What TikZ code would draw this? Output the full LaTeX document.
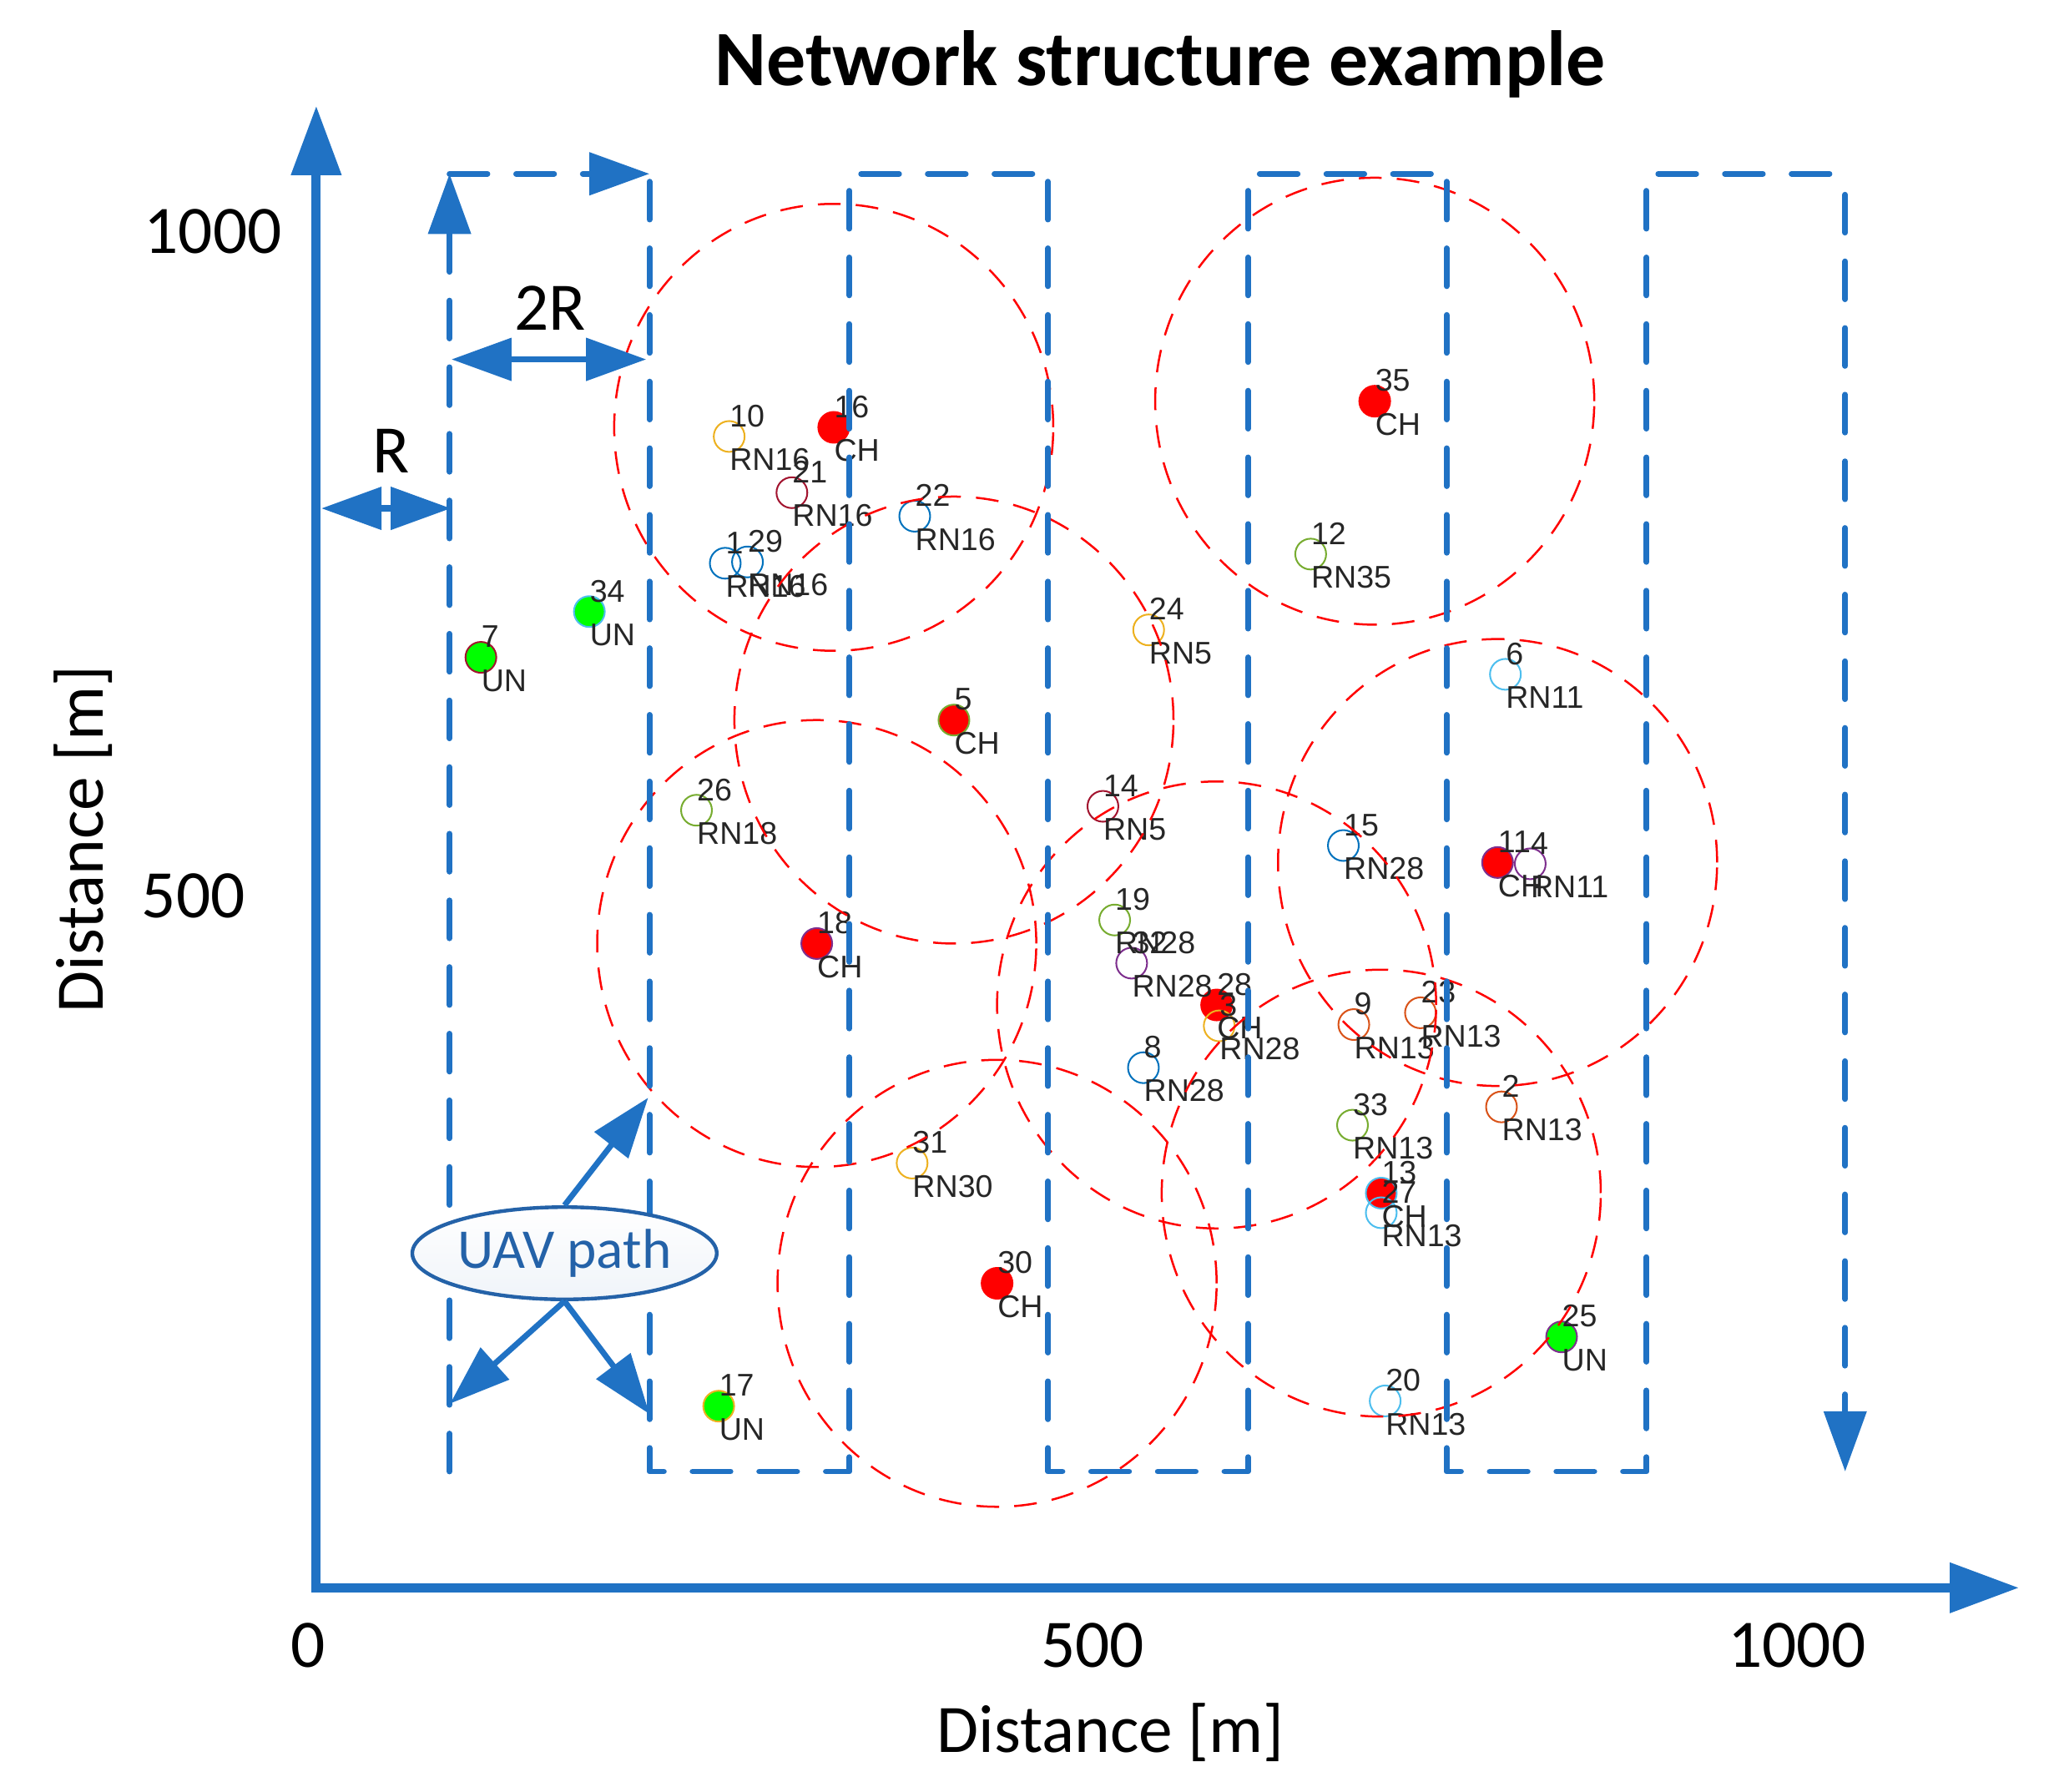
\documentclass[tikz,border=0pt]{standalone}
\usepackage{fontspec}
\setmainfont{Carlito}
\newfontfamily\mlfont{Liberation Sans}
\usetikzlibrary{arrows.meta,calc,shapes.geometric}

\definecolor{pathblue}{RGB}{32,114,196}
\definecolor{boxblue}{RGB}{36,98,168}
\definecolor{myblue}{RGB}{0,114,189}
\definecolor{myorange}{RGB}{217,83,25}
\definecolor{myyellow}{RGB}{237,177,32}
\definecolor{mypurple}{RGB}{126,47,142}
\definecolor{myolive}{RGB}{119,172,48}
\definecolor{mycyan}{RGB}{77,190,238}
\definecolor{mydarkred}{RGB}{162,20,47}
\definecolor{myred}{RGB}{255,0,0}
\definecolor{mygreen}{RGB}{0,255,0}

\tikzset{
	mk/.style={circle,inner sep=0pt,minimum size=11.8pt,line width=0.65pt},
	mllbl/.style={font=\mlfont\fontsize{12}{14}\selectfont,text=black!85,inner sep=0pt,anchor=base west},
	rangecirc/.style={red,line width=0.8pt,dash pattern=on 8.7pt off 5.8pt},
	flight/.style={pathblue,line width=2.2pt,line cap=round,line join=round,dash pattern=on 14.5pt off 11pt},
	bigtip/.style={-{Triangle[length=23pt,width=16pt]}},
	axisline/.style={pathblue,line width=3.5pt,{Triangle[length=26.5pt,width=18.5pt]}-{Triangle[length=26.5pt,width=18.5pt]}},
	dimarrow/.style={pathblue,line width=2.3pt,{Triangle[length=23pt,width=16pt]}-{Triangle[length=23pt,width=16pt]}},
	ppt/.style={font=\fontsize{26}{30}\selectfont,inner sep=0pt,anchor=base},
	uavbox/.style={ellipse,draw=boxblue,line width=1.4pt,top color=white,bottom color=boxblue!7,text=boxblue,
		minimum width=116.5pt,minimum height=35.3pt,inner sep=0pt,font=\fontsize{21.5}{24}\selectfont}
}

\def\ptlist{10/558/334/none/myyellow/RN16, 16/638/327/myred/myred/CH, 21/606/377/none/mydarkred/RN16,
	22/700/395/none/myblue/RN16, 1/555/431/none/myblue/RN16, 29/572/430/none/myblue/RN16,
	34/451/468/mygreen/mycyan/UN, 7/368/503/mygreen/mydarkred/UN, 24/879/482/none/myyellow/RN5,
	12/1003/424/none/myolive/RN35, 35/1052/307/myred/myred/CH, 6/1152/516/none/mycyan/RN11,
	5/730/551/myred/myolive/CH, 26/533/620/none/myolive/RN18, 14/844/617/none/mydarkred/RN5,
	15/1028/647/none/myblue/RN28, 11/1146/660/myred/mypurple/CH, 4/1171/661/none/mypurple/RN11,
	18/625/722/myred/mypurple/CH, 19/853/704/none/myolive/RN28, 32/866/737/none/mypurple/RN28,
	28/931/769/myred/myred/CH, 3/933/785/none/myyellow/RN28, 8/875/817/none/myblue/RN28,
	9/1036/784/none/myorange/RN13, 23/1087/775/none/myorange/RN13, 2/1149/847/none/myorange/RN13,
	33/1035/861/none/myolive/RN13, 13/1057/913/myred/mycyan/CH, 27/1057/928/none/mycyan/RN13,
	31/698/890/none/myyellow/RN30, 30/763/982/myred/myred/CH, 17/550/1076/mygreen/myyellow/UN,
	20/1060/1072/none/mycyan/RN13, 25/1195/1023/mygreen/mypurple/UN}

\begin{document}
\begin{tikzpicture}[x=0.5pt,y=-0.5pt]
		\useasboundingbox (0,0) rectangle (1568,1371);
		% sensor nodes
		\foreach \n/\x/\y/\f/\e/\r in \ptlist
			\node[mk,draw=\e,fill=\f] (p\n) at (\x,\y) {};
		\foreach \n/\x/\y/\f/\e/\r in \ptlist {
			\node[mllbl] (n\n) at ($(p\n.center)+(0,-7.5)$) {\n};
			\node[mllbl] (r\n) at ($(p\n.center)+(0,26)$) {\r};
		}
		\foreach \c in {16,35,5,18,11,28,13,30}
			\draw[rangecirc] (p\c.center) circle[x radius=84pt,y radius=85.5pt];
		% UAV path
		\draw[flight,bigtip] (344,1126) -- (344,133);
		\draw[flight,bigtip] (344,133) -- (497,133);
		\foreach \a/\b/\c in {497/650/802,802/955/1107,1107/1260/1412}
			\draw[flight] (\a,139) -- (\a,1126) -- (\b,1126) -- (\b,133) -- (\c,133);
		\draw[flight,bigtip] (1412,149) -- (1412,1126);
		% axes
		\coordinate (o) at (242,1215);
		\coordinate (ytop) at (242,81);
		\coordinate (xend) at (1545,1215);
		\draw[axisline] (ytop) -- (o) -- (xend);
		\node[ppt] (y1000) at (163,194) {1000};
		\node[ppt] (y500) at (148,702) {500};
		\node[ppt] (x0) at (236,1276) {0};
		\node[ppt] (x500) at (836,1276) {500};
		\node[ppt] (x1000) at (1375,1276) {1000};
		\node[ppt] (xlab) at (850,1341) {Distance [m]};
		\node[ppt,rotate=90] (ylab) at (79,642) {Distance [m]};
		\node[ppt,font=\fontsize{30}{34}\selectfont\bfseries] (title) at (888,65.6) {Network structure example};
		% R and 2R
		\coordinate (ra) at (246,389);
		\coordinate (rb) at (345,389);
		\draw[dimarrow] (ra) -- (rb);
		\node[ppt] (rlab) at (299,361.5) {R};
		\coordinate (wa) at (345.5,275);
		\coordinate (wb) at (494.5,275);
		\draw[dimarrow] (wa) -- (wb);
		\node[ppt] (wlab) at (421,252.5) {2R};
		% label
		\node[uavbox] (uavp) at (432,959) {UAV path};
		\coordinate (a1) at (496,840);
		\coordinate (a2) at (344.5,1074);
		\coordinate (a3) at (497,1082);
		\draw[pathblue,line width=2.2pt,bigtip] (uavp.north) -- (a1);
		\draw[pathblue,line width=2.2pt,bigtip] (uavp.south) -- (a2);
		\draw[pathblue,line width=2.2pt,bigtip] (uavp.south) -- (a3);
\end{tikzpicture}
\end{document}
